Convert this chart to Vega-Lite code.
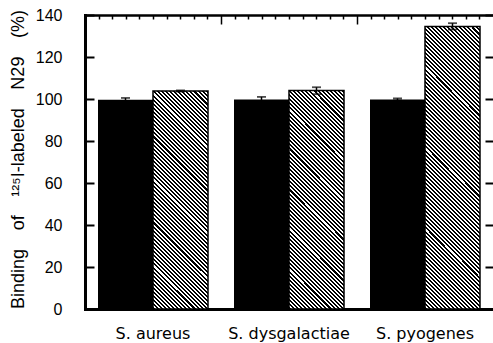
{"$schema":"https://vega.github.io/schema/vega-lite/v6.json","width":408,"height":294,"autosize":{"type":"none"},"padding":{"left":85,"top":15,"right":0,"bottom":34},"background":"white","config":{"view":{"stroke":null},"axis":{"domainColor":"black","tickColor":"black","labelColor":"black","titleColor":"black","grid":false,"labelFont":"Liberation Sans","titleFont":"Liberation Sans","titleFontWeight":"normal","domainCap":"square"}},"data":{"values":[{"species":"S. aureus","treatment":"control","value":99.6,"lo":98.7,"hi":100.5},{"species":"S. aureus","treatment":"treated","value":103.8,"lo":103.5,"hi":104.1},{"species":"S. dysgalactiae","treatment":"control","value":99.8,"lo":98.6,"hi":101.0},{"species":"S. dysgalactiae","treatment":"treated","value":104.0,"lo":102.3,"hi":105.6},{"species":"S. pyogenes","treatment":"control","value":99.8,"lo":99.3,"hi":100.3},{"species":"S. pyogenes","treatment":"treated","value":134.5,"lo":133.1,"hi":136.1}]},"layer":[{"encoding":{"x":{"field":"species","type":"nominal","scale":{"domain":["S. aureus","S. dysgalactiae","S. pyogenes"],"paddingInner":0,"paddingOuter":0},"axis":{"orient":"bottom","title":null,"ticks":false,"labelAngle":0,"labelPadding":16,"labelFontSize":16,"labelFont":"DejaVu Sans","domainWidth":3}},"xOffset":{"field":"treatment","type":"nominal","scale":{"domain":["control","treated"],"paddingInner":0,"paddingOuter":0.2364}}},"layer":[{"transform":[{"filter":"datum.treatment === 'control'"}],"mark":{"type":"bar","fill":"black"},"encoding":{"y":{"field":"value","type":"quantitative","scale":{"domain":[0,140],"nice":false},"axis":{"orient":"left","values":[0,20,40,60,80,100,120,140],"title":"Binding\u00a0\u00a0\u00a0\u2009of\u00a0\u00a0\u00a0\u2009\u00b9\u00b2\u2075I-labeled\u00a0\u00a0\u00a0\u2009N29\u00a0\u00a0\u00a0\u2009(%)","titleFontSize":18,"titleX":-62,"titleY":144,"titleAngle":-90,"titleAlign":"center","titleBaseline":"alphabetic","domainWidth":3,"tickSize":-9,"tickWidth":2,"labelPadding":32,"labelFontSize":16}}}},{"transform":[{"filter":"datum.treatment === 'treated' && datum.species !== 'S. pyogenes'"}],"mark":{"type":"bar","stroke":"black","strokeWidth":1.5,"fill":{"gradient":"linear","x1":0,"y1":1,"x2":0.297,"y2":-0.1774,"stops":[{"offset":0.0075,"color":"#000"},{"offset":0.0075,"color":"#fff"},{"offset":0.015,"color":"#fff"},{"offset":0.015,"color":"#000"},{"offset":0.0225,"color":"#000"},{"offset":0.0225,"color":"#fff"},{"offset":0.03,"color":"#fff"},{"offset":0.03,"color":"#000"},{"offset":0.0375,"color":"#000"},{"offset":0.0375,"color":"#fff"},{"offset":0.045,"color":"#fff"},{"offset":0.045,"color":"#000"},{"offset":0.0525,"color":"#000"},{"offset":0.0525,"color":"#fff"},{"offset":0.06,"color":"#fff"},{"offset":0.06,"color":"#000"},{"offset":0.0675,"color":"#000"},{"offset":0.0675,"color":"#fff"},{"offset":0.075,"color":"#fff"},{"offset":0.075,"color":"#000"},{"offset":0.0825,"color":"#000"},{"offset":0.0825,"color":"#fff"},{"offset":0.09,"color":"#fff"},{"offset":0.09,"color":"#000"},{"offset":0.0975,"color":"#000"},{"offset":0.0975,"color":"#fff"},{"offset":0.105,"color":"#fff"},{"offset":0.105,"color":"#000"},{"offset":0.1125,"color":"#000"},{"offset":0.1125,"color":"#fff"},{"offset":0.12,"color":"#fff"},{"offset":0.12,"color":"#000"},{"offset":0.1275,"color":"#000"},{"offset":0.1275,"color":"#fff"},{"offset":0.135,"color":"#fff"},{"offset":0.135,"color":"#000"},{"offset":0.1425,"color":"#000"},{"offset":0.1425,"color":"#fff"},{"offset":0.15,"color":"#fff"},{"offset":0.15,"color":"#000"},{"offset":0.1575,"color":"#000"},{"offset":0.1575,"color":"#fff"},{"offset":0.165,"color":"#fff"},{"offset":0.165,"color":"#000"},{"offset":0.1725,"color":"#000"},{"offset":0.1725,"color":"#fff"},{"offset":0.18,"color":"#fff"},{"offset":0.18,"color":"#000"},{"offset":0.1875,"color":"#000"},{"offset":0.1875,"color":"#fff"},{"offset":0.195,"color":"#fff"},{"offset":0.195,"color":"#000"},{"offset":0.2025,"color":"#000"},{"offset":0.2025,"color":"#fff"},{"offset":0.21,"color":"#fff"},{"offset":0.21,"color":"#000"},{"offset":0.2175,"color":"#000"},{"offset":0.2175,"color":"#fff"},{"offset":0.225,"color":"#fff"},{"offset":0.225,"color":"#000"},{"offset":0.2325,"color":"#000"},{"offset":0.2325,"color":"#fff"},{"offset":0.24,"color":"#fff"},{"offset":0.24,"color":"#000"},{"offset":0.2475,"color":"#000"},{"offset":0.2475,"color":"#fff"},{"offset":0.255,"color":"#fff"},{"offset":0.255,"color":"#000"},{"offset":0.2625,"color":"#000"},{"offset":0.2625,"color":"#fff"},{"offset":0.27,"color":"#fff"},{"offset":0.27,"color":"#000"},{"offset":0.2775,"color":"#000"},{"offset":0.2775,"color":"#fff"},{"offset":0.285,"color":"#fff"},{"offset":0.285,"color":"#000"},{"offset":0.2925,"color":"#000"},{"offset":0.2925,"color":"#fff"},{"offset":0.3,"color":"#fff"},{"offset":0.3,"color":"#000"},{"offset":0.3075,"color":"#000"},{"offset":0.3075,"color":"#fff"},{"offset":0.315,"color":"#fff"},{"offset":0.315,"color":"#000"},{"offset":0.3225,"color":"#000"},{"offset":0.3225,"color":"#fff"},{"offset":0.33,"color":"#fff"},{"offset":0.33,"color":"#000"},{"offset":0.3375,"color":"#000"},{"offset":0.3375,"color":"#fff"},{"offset":0.345,"color":"#fff"},{"offset":0.345,"color":"#000"},{"offset":0.3525,"color":"#000"},{"offset":0.3525,"color":"#fff"},{"offset":0.36,"color":"#fff"},{"offset":0.36,"color":"#000"},{"offset":0.3675,"color":"#000"},{"offset":0.3675,"color":"#fff"},{"offset":0.375,"color":"#fff"},{"offset":0.375,"color":"#000"},{"offset":0.3825,"color":"#000"},{"offset":0.3825,"color":"#fff"},{"offset":0.39,"color":"#fff"},{"offset":0.39,"color":"#000"},{"offset":0.3975,"color":"#000"},{"offset":0.3975,"color":"#fff"},{"offset":0.405,"color":"#fff"},{"offset":0.405,"color":"#000"},{"offset":0.4125,"color":"#000"},{"offset":0.4125,"color":"#fff"},{"offset":0.42,"color":"#fff"},{"offset":0.42,"color":"#000"},{"offset":0.4275,"color":"#000"},{"offset":0.4275,"color":"#fff"},{"offset":0.435,"color":"#fff"},{"offset":0.435,"color":"#000"},{"offset":0.4425,"color":"#000"},{"offset":0.4425,"color":"#fff"},{"offset":0.45,"color":"#fff"},{"offset":0.45,"color":"#000"},{"offset":0.4575,"color":"#000"},{"offset":0.4575,"color":"#fff"},{"offset":0.465,"color":"#fff"},{"offset":0.465,"color":"#000"},{"offset":0.4725,"color":"#000"},{"offset":0.4725,"color":"#fff"},{"offset":0.48,"color":"#fff"},{"offset":0.48,"color":"#000"},{"offset":0.4875,"color":"#000"},{"offset":0.4875,"color":"#fff"},{"offset":0.495,"color":"#fff"},{"offset":0.495,"color":"#000"},{"offset":0.5025,"color":"#000"},{"offset":0.5025,"color":"#fff"},{"offset":0.51,"color":"#fff"},{"offset":0.51,"color":"#000"},{"offset":0.5175,"color":"#000"},{"offset":0.5175,"color":"#fff"},{"offset":0.525,"color":"#fff"},{"offset":0.525,"color":"#000"},{"offset":0.5325,"color":"#000"},{"offset":0.5325,"color":"#fff"},{"offset":0.54,"color":"#fff"},{"offset":0.54,"color":"#000"},{"offset":0.5475,"color":"#000"},{"offset":0.5475,"color":"#fff"},{"offset":0.555,"color":"#fff"},{"offset":0.555,"color":"#000"},{"offset":0.5625,"color":"#000"},{"offset":0.5625,"color":"#fff"},{"offset":0.57,"color":"#fff"},{"offset":0.57,"color":"#000"},{"offset":0.5775,"color":"#000"},{"offset":0.5775,"color":"#fff"},{"offset":0.585,"color":"#fff"},{"offset":0.585,"color":"#000"},{"offset":0.5925,"color":"#000"},{"offset":0.5925,"color":"#fff"},{"offset":0.6,"color":"#fff"},{"offset":0.6,"color":"#000"},{"offset":0.6075,"color":"#000"},{"offset":0.6075,"color":"#fff"},{"offset":0.615,"color":"#fff"},{"offset":0.615,"color":"#000"},{"offset":0.6225,"color":"#000"},{"offset":0.6225,"color":"#fff"},{"offset":0.63,"color":"#fff"},{"offset":0.63,"color":"#000"},{"offset":0.6375,"color":"#000"},{"offset":0.6375,"color":"#fff"},{"offset":0.645,"color":"#fff"},{"offset":0.645,"color":"#000"},{"offset":0.6525,"color":"#000"},{"offset":0.6525,"color":"#fff"},{"offset":0.66,"color":"#fff"},{"offset":0.66,"color":"#000"},{"offset":0.6675,"color":"#000"},{"offset":0.6675,"color":"#fff"},{"offset":0.675,"color":"#fff"},{"offset":0.675,"color":"#000"},{"offset":0.6825,"color":"#000"},{"offset":0.6825,"color":"#fff"},{"offset":0.69,"color":"#fff"},{"offset":0.69,"color":"#000"},{"offset":0.6975,"color":"#000"},{"offset":0.6975,"color":"#fff"},{"offset":0.705,"color":"#fff"},{"offset":0.705,"color":"#000"},{"offset":0.7125,"color":"#000"},{"offset":0.7125,"color":"#fff"},{"offset":0.72,"color":"#fff"},{"offset":0.72,"color":"#000"},{"offset":0.7275,"color":"#000"},{"offset":0.7275,"color":"#fff"},{"offset":0.735,"color":"#fff"},{"offset":0.735,"color":"#000"},{"offset":0.7425,"color":"#000"},{"offset":0.7425,"color":"#fff"},{"offset":0.75,"color":"#fff"},{"offset":0.75,"color":"#000"},{"offset":0.7575,"color":"#000"},{"offset":0.7575,"color":"#fff"},{"offset":0.765,"color":"#fff"},{"offset":0.765,"color":"#000"},{"offset":0.7725,"color":"#000"},{"offset":0.7725,"color":"#fff"},{"offset":0.78,"color":"#fff"},{"offset":0.78,"color":"#000"},{"offset":0.7875,"color":"#000"},{"offset":0.7875,"color":"#fff"},{"offset":0.795,"color":"#fff"},{"offset":0.795,"color":"#000"},{"offset":0.8025,"color":"#000"},{"offset":0.8025,"color":"#fff"},{"offset":0.81,"color":"#fff"},{"offset":0.81,"color":"#000"},{"offset":0.8175,"color":"#000"},{"offset":0.8175,"color":"#fff"},{"offset":0.825,"color":"#fff"},{"offset":0.825,"color":"#000"},{"offset":0.8325,"color":"#000"},{"offset":0.8325,"color":"#fff"},{"offset":0.84,"color":"#fff"},{"offset":0.84,"color":"#000"},{"offset":0.8475,"color":"#000"},{"offset":0.8475,"color":"#fff"},{"offset":0.855,"color":"#fff"},{"offset":0.855,"color":"#000"},{"offset":0.8625,"color":"#000"},{"offset":0.8625,"color":"#fff"},{"offset":0.87,"color":"#fff"},{"offset":0.87,"color":"#000"},{"offset":0.8775,"color":"#000"},{"offset":0.8775,"color":"#fff"},{"offset":0.885,"color":"#fff"},{"offset":0.885,"color":"#000"},{"offset":0.8925,"color":"#000"},{"offset":0.8925,"color":"#fff"},{"offset":0.9,"color":"#fff"},{"offset":0.9,"color":"#000"},{"offset":0.9075,"color":"#000"},{"offset":0.9075,"color":"#fff"},{"offset":0.915,"color":"#fff"},{"offset":0.915,"color":"#000"},{"offset":0.9225,"color":"#000"},{"offset":0.9225,"color":"#fff"},{"offset":0.93,"color":"#fff"},{"offset":0.93,"color":"#000"},{"offset":0.9375,"color":"#000"},{"offset":0.9375,"color":"#fff"},{"offset":0.945,"color":"#fff"},{"offset":0.945,"color":"#000"},{"offset":0.9525,"color":"#000"},{"offset":0.9525,"color":"#fff"},{"offset":0.96,"color":"#fff"},{"offset":0.96,"color":"#000"},{"offset":0.9675,"color":"#000"},{"offset":0.9675,"color":"#fff"},{"offset":0.975,"color":"#fff"},{"offset":0.975,"color":"#000"},{"offset":0.9825,"color":"#000"},{"offset":0.9825,"color":"#fff"},{"offset":0.99,"color":"#fff"},{"offset":0.99,"color":"#000"},{"offset":0.9975,"color":"#000"},{"offset":0.9975,"color":"#fff"}]}},"encoding":{"y":{"field":"value","type":"quantitative","axis":null}}},{"transform":[{"filter":"datum.treatment === 'treated' && datum.species === 'S. pyogenes'"}],"mark":{"type":"bar","stroke":"black","strokeWidth":1.5,"fill":{"gradient":"linear","x1":0,"y1":1,"x2":0.2245,"y2":-0.1512,"stops":[{"offset":0.006,"color":"#000"},{"offset":0.006,"color":"#fff"},{"offset":0.012,"color":"#fff"},{"offset":0.012,"color":"#000"},{"offset":0.018,"color":"#000"},{"offset":0.018,"color":"#fff"},{"offset":0.024,"color":"#fff"},{"offset":0.024,"color":"#000"},{"offset":0.03,"color":"#000"},{"offset":0.03,"color":"#fff"},{"offset":0.036,"color":"#fff"},{"offset":0.036,"color":"#000"},{"offset":0.042,"color":"#000"},{"offset":0.042,"color":"#fff"},{"offset":0.048,"color":"#fff"},{"offset":0.048,"color":"#000"},{"offset":0.054,"color":"#000"},{"offset":0.054,"color":"#fff"},{"offset":0.06,"color":"#fff"},{"offset":0.06,"color":"#000"},{"offset":0.066,"color":"#000"},{"offset":0.066,"color":"#fff"},{"offset":0.072,"color":"#fff"},{"offset":0.072,"color":"#000"},{"offset":0.078,"color":"#000"},{"offset":0.078,"color":"#fff"},{"offset":0.084,"color":"#fff"},{"offset":0.084,"color":"#000"},{"offset":0.09,"color":"#000"},{"offset":0.09,"color":"#fff"},{"offset":0.096,"color":"#fff"},{"offset":0.096,"color":"#000"},{"offset":0.102,"color":"#000"},{"offset":0.102,"color":"#fff"},{"offset":0.108,"color":"#fff"},{"offset":0.108,"color":"#000"},{"offset":0.114,"color":"#000"},{"offset":0.114,"color":"#fff"},{"offset":0.12,"color":"#fff"},{"offset":0.12,"color":"#000"},{"offset":0.126,"color":"#000"},{"offset":0.126,"color":"#fff"},{"offset":0.132,"color":"#fff"},{"offset":0.132,"color":"#000"},{"offset":0.138,"color":"#000"},{"offset":0.138,"color":"#fff"},{"offset":0.144,"color":"#fff"},{"offset":0.144,"color":"#000"},{"offset":0.15,"color":"#000"},{"offset":0.15,"color":"#fff"},{"offset":0.156,"color":"#fff"},{"offset":0.156,"color":"#000"},{"offset":0.162,"color":"#000"},{"offset":0.162,"color":"#fff"},{"offset":0.168,"color":"#fff"},{"offset":0.168,"color":"#000"},{"offset":0.174,"color":"#000"},{"offset":0.174,"color":"#fff"},{"offset":0.18,"color":"#fff"},{"offset":0.18,"color":"#000"},{"offset":0.186,"color":"#000"},{"offset":0.186,"color":"#fff"},{"offset":0.192,"color":"#fff"},{"offset":0.192,"color":"#000"},{"offset":0.198,"color":"#000"},{"offset":0.198,"color":"#fff"},{"offset":0.204,"color":"#fff"},{"offset":0.204,"color":"#000"},{"offset":0.21,"color":"#000"},{"offset":0.21,"color":"#fff"},{"offset":0.216,"color":"#fff"},{"offset":0.216,"color":"#000"},{"offset":0.222,"color":"#000"},{"offset":0.222,"color":"#fff"},{"offset":0.228,"color":"#fff"},{"offset":0.228,"color":"#000"},{"offset":0.234,"color":"#000"},{"offset":0.234,"color":"#fff"},{"offset":0.24,"color":"#fff"},{"offset":0.24,"color":"#000"},{"offset":0.246,"color":"#000"},{"offset":0.246,"color":"#fff"},{"offset":0.252,"color":"#fff"},{"offset":0.252,"color":"#000"},{"offset":0.258,"color":"#000"},{"offset":0.258,"color":"#fff"},{"offset":0.264,"color":"#fff"},{"offset":0.264,"color":"#000"},{"offset":0.27,"color":"#000"},{"offset":0.27,"color":"#fff"},{"offset":0.276,"color":"#fff"},{"offset":0.276,"color":"#000"},{"offset":0.282,"color":"#000"},{"offset":0.282,"color":"#fff"},{"offset":0.288,"color":"#fff"},{"offset":0.288,"color":"#000"},{"offset":0.294,"color":"#000"},{"offset":0.294,"color":"#fff"},{"offset":0.3,"color":"#fff"},{"offset":0.3,"color":"#000"},{"offset":0.306,"color":"#000"},{"offset":0.306,"color":"#fff"},{"offset":0.312,"color":"#fff"},{"offset":0.312,"color":"#000"},{"offset":0.318,"color":"#000"},{"offset":0.318,"color":"#fff"},{"offset":0.324,"color":"#fff"},{"offset":0.324,"color":"#000"},{"offset":0.33,"color":"#000"},{"offset":0.33,"color":"#fff"},{"offset":0.336,"color":"#fff"},{"offset":0.336,"color":"#000"},{"offset":0.342,"color":"#000"},{"offset":0.342,"color":"#fff"},{"offset":0.348,"color":"#fff"},{"offset":0.348,"color":"#000"},{"offset":0.354,"color":"#000"},{"offset":0.354,"color":"#fff"},{"offset":0.36,"color":"#fff"},{"offset":0.36,"color":"#000"},{"offset":0.366,"color":"#000"},{"offset":0.366,"color":"#fff"},{"offset":0.372,"color":"#fff"},{"offset":0.372,"color":"#000"},{"offset":0.378,"color":"#000"},{"offset":0.378,"color":"#fff"},{"offset":0.384,"color":"#fff"},{"offset":0.384,"color":"#000"},{"offset":0.39,"color":"#000"},{"offset":0.39,"color":"#fff"},{"offset":0.396,"color":"#fff"},{"offset":0.396,"color":"#000"},{"offset":0.402,"color":"#000"},{"offset":0.402,"color":"#fff"},{"offset":0.408,"color":"#fff"},{"offset":0.408,"color":"#000"},{"offset":0.414,"color":"#000"},{"offset":0.414,"color":"#fff"},{"offset":0.42,"color":"#fff"},{"offset":0.42,"color":"#000"},{"offset":0.426,"color":"#000"},{"offset":0.426,"color":"#fff"},{"offset":0.432,"color":"#fff"},{"offset":0.432,"color":"#000"},{"offset":0.438,"color":"#000"},{"offset":0.438,"color":"#fff"},{"offset":0.444,"color":"#fff"},{"offset":0.444,"color":"#000"},{"offset":0.45,"color":"#000"},{"offset":0.45,"color":"#fff"},{"offset":0.456,"color":"#fff"},{"offset":0.456,"color":"#000"},{"offset":0.462,"color":"#000"},{"offset":0.462,"color":"#fff"},{"offset":0.468,"color":"#fff"},{"offset":0.468,"color":"#000"},{"offset":0.474,"color":"#000"},{"offset":0.474,"color":"#fff"},{"offset":0.48,"color":"#fff"},{"offset":0.48,"color":"#000"},{"offset":0.486,"color":"#000"},{"offset":0.486,"color":"#fff"},{"offset":0.492,"color":"#fff"},{"offset":0.492,"color":"#000"},{"offset":0.498,"color":"#000"},{"offset":0.498,"color":"#fff"},{"offset":0.504,"color":"#fff"},{"offset":0.504,"color":"#000"},{"offset":0.51,"color":"#000"},{"offset":0.51,"color":"#fff"},{"offset":0.516,"color":"#fff"},{"offset":0.516,"color":"#000"},{"offset":0.522,"color":"#000"},{"offset":0.522,"color":"#fff"},{"offset":0.528,"color":"#fff"},{"offset":0.528,"color":"#000"},{"offset":0.534,"color":"#000"},{"offset":0.534,"color":"#fff"},{"offset":0.54,"color":"#fff"},{"offset":0.54,"color":"#000"},{"offset":0.546,"color":"#000"},{"offset":0.546,"color":"#fff"},{"offset":0.552,"color":"#fff"},{"offset":0.552,"color":"#000"},{"offset":0.558,"color":"#000"},{"offset":0.558,"color":"#fff"},{"offset":0.564,"color":"#fff"},{"offset":0.564,"color":"#000"},{"offset":0.57,"color":"#000"},{"offset":0.57,"color":"#fff"},{"offset":0.576,"color":"#fff"},{"offset":0.576,"color":"#000"},{"offset":0.582,"color":"#000"},{"offset":0.582,"color":"#fff"},{"offset":0.588,"color":"#fff"},{"offset":0.588,"color":"#000"},{"offset":0.594,"color":"#000"},{"offset":0.594,"color":"#fff"},{"offset":0.6,"color":"#fff"},{"offset":0.6,"color":"#000"},{"offset":0.606,"color":"#000"},{"offset":0.606,"color":"#fff"},{"offset":0.612,"color":"#fff"},{"offset":0.612,"color":"#000"},{"offset":0.618,"color":"#000"},{"offset":0.618,"color":"#fff"},{"offset":0.624,"color":"#fff"},{"offset":0.624,"color":"#000"},{"offset":0.63,"color":"#000"},{"offset":0.63,"color":"#fff"},{"offset":0.636,"color":"#fff"},{"offset":0.636,"color":"#000"},{"offset":0.642,"color":"#000"},{"offset":0.642,"color":"#fff"},{"offset":0.648,"color":"#fff"},{"offset":0.648,"color":"#000"},{"offset":0.654,"color":"#000"},{"offset":0.654,"color":"#fff"},{"offset":0.66,"color":"#fff"},{"offset":0.66,"color":"#000"},{"offset":0.666,"color":"#000"},{"offset":0.666,"color":"#fff"},{"offset":0.672,"color":"#fff"},{"offset":0.672,"color":"#000"},{"offset":0.678,"color":"#000"},{"offset":0.678,"color":"#fff"},{"offset":0.684,"color":"#fff"},{"offset":0.684,"color":"#000"},{"offset":0.69,"color":"#000"},{"offset":0.69,"color":"#fff"},{"offset":0.696,"color":"#fff"},{"offset":0.696,"color":"#000"},{"offset":0.702,"color":"#000"},{"offset":0.702,"color":"#fff"},{"offset":0.708,"color":"#fff"},{"offset":0.708,"color":"#000"},{"offset":0.714,"color":"#000"},{"offset":0.714,"color":"#fff"},{"offset":0.72,"color":"#fff"},{"offset":0.72,"color":"#000"},{"offset":0.726,"color":"#000"},{"offset":0.726,"color":"#fff"},{"offset":0.732,"color":"#fff"},{"offset":0.732,"color":"#000"},{"offset":0.738,"color":"#000"},{"offset":0.738,"color":"#fff"},{"offset":0.744,"color":"#fff"},{"offset":0.744,"color":"#000"},{"offset":0.75,"color":"#000"},{"offset":0.75,"color":"#fff"},{"offset":0.756,"color":"#fff"},{"offset":0.756,"color":"#000"},{"offset":0.762,"color":"#000"},{"offset":0.762,"color":"#fff"},{"offset":0.768,"color":"#fff"},{"offset":0.768,"color":"#000"},{"offset":0.774,"color":"#000"},{"offset":0.774,"color":"#fff"},{"offset":0.78,"color":"#fff"},{"offset":0.78,"color":"#000"},{"offset":0.786,"color":"#000"},{"offset":0.786,"color":"#fff"},{"offset":0.792,"color":"#fff"},{"offset":0.792,"color":"#000"},{"offset":0.798,"color":"#000"},{"offset":0.798,"color":"#fff"},{"offset":0.804,"color":"#fff"},{"offset":0.804,"color":"#000"},{"offset":0.81,"color":"#000"},{"offset":0.81,"color":"#fff"},{"offset":0.816,"color":"#fff"},{"offset":0.816,"color":"#000"},{"offset":0.822,"color":"#000"},{"offset":0.822,"color":"#fff"},{"offset":0.828,"color":"#fff"},{"offset":0.828,"color":"#000"},{"offset":0.834,"color":"#000"},{"offset":0.834,"color":"#fff"},{"offset":0.84,"color":"#fff"},{"offset":0.84,"color":"#000"},{"offset":0.846,"color":"#000"},{"offset":0.846,"color":"#fff"},{"offset":0.852,"color":"#fff"},{"offset":0.852,"color":"#000"},{"offset":0.858,"color":"#000"},{"offset":0.858,"color":"#fff"},{"offset":0.864,"color":"#fff"},{"offset":0.864,"color":"#000"},{"offset":0.87,"color":"#000"},{"offset":0.87,"color":"#fff"},{"offset":0.876,"color":"#fff"},{"offset":0.876,"color":"#000"},{"offset":0.882,"color":"#000"},{"offset":0.882,"color":"#fff"},{"offset":0.888,"color":"#fff"},{"offset":0.888,"color":"#000"},{"offset":0.894,"color":"#000"},{"offset":0.894,"color":"#fff"},{"offset":0.9,"color":"#fff"},{"offset":0.9,"color":"#000"},{"offset":0.906,"color":"#000"},{"offset":0.906,"color":"#fff"},{"offset":0.912,"color":"#fff"},{"offset":0.912,"color":"#000"},{"offset":0.918,"color":"#000"},{"offset":0.918,"color":"#fff"},{"offset":0.924,"color":"#fff"},{"offset":0.924,"color":"#000"},{"offset":0.93,"color":"#000"},{"offset":0.93,"color":"#fff"},{"offset":0.936,"color":"#fff"},{"offset":0.936,"color":"#000"},{"offset":0.942,"color":"#000"},{"offset":0.942,"color":"#fff"},{"offset":0.948,"color":"#fff"},{"offset":0.948,"color":"#000"},{"offset":0.954,"color":"#000"},{"offset":0.954,"color":"#fff"},{"offset":0.96,"color":"#fff"},{"offset":0.96,"color":"#000"},{"offset":0.966,"color":"#000"},{"offset":0.966,"color":"#fff"},{"offset":0.972,"color":"#fff"},{"offset":0.972,"color":"#000"},{"offset":0.978,"color":"#000"},{"offset":0.978,"color":"#fff"},{"offset":0.984,"color":"#fff"},{"offset":0.984,"color":"#000"},{"offset":0.99,"color":"#000"},{"offset":0.99,"color":"#fff"},{"offset":0.996,"color":"#fff"},{"offset":0.996,"color":"#000"}]}},"encoding":{"y":{"field":"value","type":"quantitative","axis":null}}},{"mark":{"type":"rule","color":"black","strokeWidth":1.5},"encoding":{"y":{"field":"lo","type":"quantitative","axis":{"orient":"right","values":[0,20,40,60,80,100,120,140],"labels":false,"title":null,"domain":false,"tickSize":-8,"tickWidth":2}},"y2":{"field":"hi"}}},{"mark":{"type":"tick","color":"black","size":9,"thickness":1.8},"encoding":{"y":{"field":"lo","type":"quantitative","axis":null}}},{"mark":{"type":"tick","color":"black","size":9,"thickness":1.8},"encoding":{"y":{"field":"hi","type":"quantitative","axis":null}}}],"resolve":{"axis":{"y":"independent"}}},{"data":{"values":[{"t":0},{"t":30}]},"mark":{"type":"point","opacity":0},"encoding":{"x":{"field":"t","type":"quantitative","scale":{"domain":[0,30],"nice":false,"zero":false},"axis":{"orient":"top","values":[1,2,3,4,5,6,7,8,9,10,11,12,13,14,15,16,17,18,19,20,21,22,23,24,25,26,27,28,29],"labels":false,"title":null,"domainWidth":2.5,"tickWidth":1.5,"tickSize":{"condition":{"test":"datum.value % 10 === 0","value":-9},"value":-4}}}}}],"resolve":{"scale":{"x":"independent"}}}
